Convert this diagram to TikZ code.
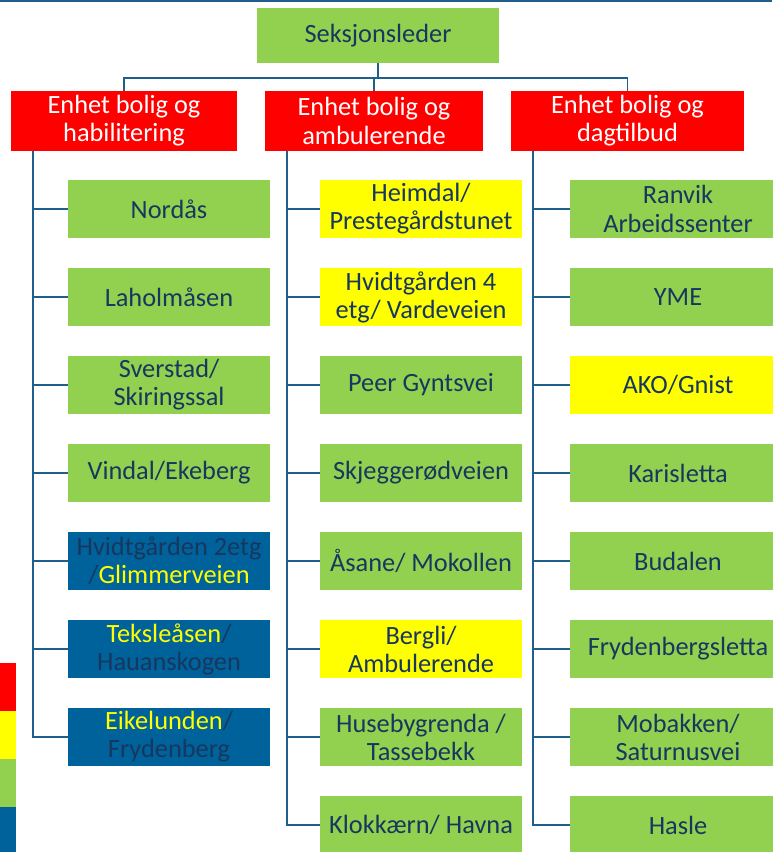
\documentclass[tikz,border=0pt]{standalone}
\usepackage{fontspec}
\setmainfont{Carlito}
\usepackage{tikz}
\usetikzlibrary{positioning}
\definecolor{leafgreen}{RGB}{146,208,80}
\definecolor{alertred}{RGB}{255,0,0}
\definecolor{warnyellow}{RGB}{255,255,0}
\definecolor{unitblue}{RGB}{0,98,155}
\definecolor{navytext}{RGB}{23,55,94}
\definecolor{linkblue}{RGB}{31,95,140}

\begin{document}
\begin{tikzpicture}[node distance=0.6cm,
  box/.style={rectangle, inner sep=0pt, outer sep=0pt, align=center, minimum height=1.16cm,
    font=\fontsize{15}{16}\selectfont},
  head/.style={box, fill=alertred, text=white, minimum height=1.2cm},
  leaf/.style={box, fill=leafgreen, text=navytext, minimum width=4.04cm},
  yellowleaf/.style={leaf, fill=warnyellow},
  blueleaf/.style={leaf, fill=unitblue},
  link/.style={draw=linkblue, line width=1.1pt}]
\useasboundingbox (0,0) rectangle (15.44,-17.04);

% Top edge and colour legend
\fill[linkblue] (0,0) rectangle (15.44,-0.04);
\fill[alertred] (0,-13.26) rectangle (0.32,-14.22);
\fill[warnyellow] (0,-14.22) rectangle (0.32,-15.18);
\fill[leafgreen] (0,-15.18) rectangle (0.32,-16.14);
\fill[unitblue] (0,-16.14) rectangle (0.32,-17.04);

% Nodes
\node[box, fill=leafgreen, text=navytext, minimum width=4.84cm, minimum height=1.1cm] (leder) at (7.56,-0.71) {Seksjonsleder};

\node[head, minimum width=4.52cm] (hab) at (2.48,-2.42) {Enhet bolig og\\habilitering};
\node[head, minimum width=4.36cm] (amb) at (7.48,-2.42) {Enhet bolig og\\ambulerende};
\node[head, minimum width=4.66cm] (dag) at (12.55,-2.42) {Enhet bolig og\\dagtilbud};

% Habilitering
\node[leaf] (nordaas) at (3.38,-4.18) {Nordås};
\node[leaf, below=of nordaas] (laholm) {Laholmåsen};
\node[leaf, below=of laholm] (sverstad) {Sverstad/\\Skiringssal};
\node[leaf, below=of sverstad] (vindal) {Vindal/Ekeberg};
\node[blueleaf, below=of vindal] (glimmer) {Hvidtgården 2etg\\/\textcolor{warnyellow}{Glimmerveien}};
\node[blueleaf, below=of glimmer] (teksle) {\textcolor{warnyellow}{Teksleåsen}/\\Hauanskogen};
\node[blueleaf, below=of teksle] (eikelund) {\textcolor{warnyellow}{Eikelunden}/\\Frydenberg};

% Ambulerende
\node[yellowleaf] (heimdal) at (8.42,-4.18) {Heimdal/\\Prestegårdstunet};
\node[yellowleaf, below=of heimdal] (vardevei) {Hvidtgården 4\\etg/ Vardeveien};
\node[leaf, below=of vardevei] (peergynt) {Peer Gyntsvei};
\node[leaf, below=of peergynt] (skjegge) {Skjeggerødveien};
\node[leaf, below=of skjegge] (aasane) {Åsane/ Mokollen};
\node[yellowleaf, below=of aasane] (bergli) {Bergli/\\Ambulerende};
\node[leaf, below=of bergli] (husebyg) {Husebygrenda /\\Tassebekk};
\node[leaf, below=of husebyg] (klokk) {Klokkærn/ Havna};

% Dagtilbud
\node[leaf, minimum width=4.32cm] (ranvik) at (13.56,-4.18) {Ranvik\\Arbeidssenter};
\node[leaf, minimum width=4.32cm, below=of ranvik] (yme) {YME};
\node[yellowleaf, minimum width=4.32cm, below=of yme] (ako) {AKO/Gnist};
\node[leaf, minimum width=4.32cm, below=of ako] (karis) {Karisletta};
\node[leaf, minimum width=4.32cm, below=of karis] (budal) {Budalen};
\node[leaf, minimum width=4.32cm, below=of budal] (frydsl) {Frydenbergsletta};
\node[leaf, minimum width=4.32cm, below=of frydsl] (mobakk) {Mobakken/\\Saturnusvei};
\node[leaf, minimum width=4.32cm, below=of mobakk] (hasle) {Hasle};

% Top connectors
\coordinate (bus) at ([yshift=-0.3cm]leder.south);
\draw[link] (leder.south) -- (bus) -| (hab.north);
\draw[link] (bus) -| (dag.north);
\draw[link] (bus -| amb.north) -- (amb.north);
\draw[link] (hab.north |- bus) -- (dag.north |- bus);

% Column trunks and branches
\coordinate (habtrunk) at ([xshift=0.44cm]hab.south west);
\draw[link] (habtrunk) |- (eikelund.west);
\draw[link] (habtrunk |- nordaas.west) -- (nordaas.west);
\draw[link] (habtrunk |- laholm.west) -- (laholm.west);
\draw[link] (habtrunk |- sverstad.west) -- (sverstad.west);
\draw[link] (habtrunk |- vindal.west) -- (vindal.west);
\draw[link] (habtrunk |- glimmer.west) -- (glimmer.west);
\draw[link] (habtrunk |- teksle.west) -- (teksle.west);

\coordinate (ambtrunk) at ([xshift=0.44cm]amb.south west);
\draw[link] (ambtrunk) |- (klokk.west);
\draw[link] (ambtrunk |- heimdal.west) -- (heimdal.west);
\draw[link] (ambtrunk |- vardevei.west) -- (vardevei.west);
\draw[link] (ambtrunk |- peergynt.west) -- (peergynt.west);
\draw[link] (ambtrunk |- skjegge.west) -- (skjegge.west);
\draw[link] (ambtrunk |- aasane.west) -- (aasane.west);
\draw[link] (ambtrunk |- bergli.west) -- (bergli.west);
\draw[link] (ambtrunk |- husebyg.west) -- (husebyg.west);

\coordinate (dagtrunk) at ([xshift=0.44cm]dag.south west);
\draw[link] (dagtrunk) |- (hasle.west);
\draw[link] (dagtrunk |- ranvik.west) -- (ranvik.west);
\draw[link] (dagtrunk |- yme.west) -- (yme.west);
\draw[link] (dagtrunk |- ako.west) -- (ako.west);
\draw[link] (dagtrunk |- karis.west) -- (karis.west);
\draw[link] (dagtrunk |- budal.west) -- (budal.west);
\draw[link] (dagtrunk |- frydsl.west) -- (frydsl.west);
\draw[link] (dagtrunk |- mobakk.west) -- (mobakk.west);
\end{tikzpicture}
\end{document}
